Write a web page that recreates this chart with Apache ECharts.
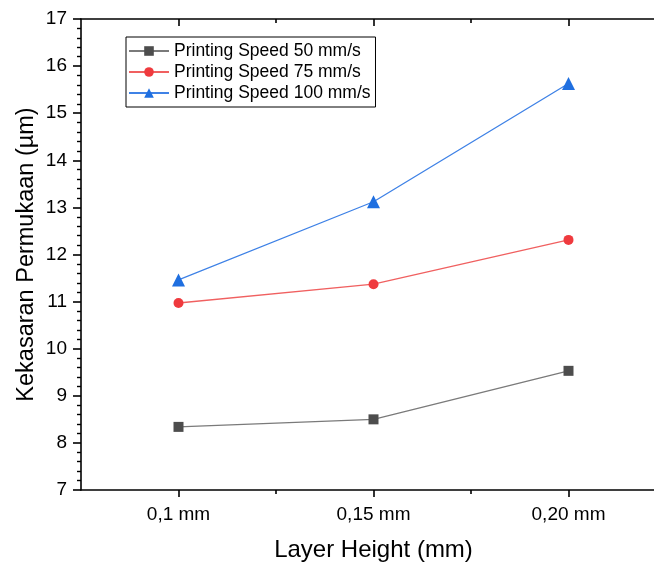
<!DOCTYPE html>
<html>
<head>
<meta charset="utf-8">
<script src="https://cdn.jsdelivr.net/npm/echarts@6/dist/echarts.min.js"></script>
<style>
  html, body { margin: 0; padding: 0; background: #fff; }
  #chart { width: 654px; height: 565px; }
</style>
</head>
<body>
<div id="chart"></div>
<script>
// layer height (mm) and their tick labels
const layerHeights = [0.1, 0.15, 0.2]
const layerLabels = ['0,1 mm', '0,15 mm', '0,20 mm']
const minorTicks = [0.125, 0.175]

const seriesNames = ['Printing Speed 50 mm/s', 'Printing Speed 75 mm/s', 'Printing Speed 100 mm/s']
const speed50 = [8.34, 8.50, 9.53]
const speed75 = [10.97, 11.37, 12.31]
const speed100 = [11.46, 13.12, 15.63]

const font = 'Liberation Sans, Arial, sans-serif'

const pairs = vals => vals.map((v, i) => [layerHeights[i], v])

const labelFor = v => {
  const i = layerHeights.findIndex(x => Math.abs(x - v) < 1e-6)
  return i >= 0 ? layerLabels[i] : ''
}

// the plot runs past the right edge of the picture
const baseX = {
  type: 'value',
  min: 0.075,
  max: 0.225,
  interval: 0.025,
  splitLine: { show: false },
  axisLine: { show: true, onZero: false, lineStyle: { color: '#000', width: 1.6 } }
}

const option = {
  backgroundColor: '#fff',
  animation: false,
  textStyle: { fontFamily: font },
  grid: { left: 81, top: 19, right: -12, bottom: 75, outerBoundsMode: 'none' },
  legend: {
    orient: 'vertical',
    left: 126,
    top: 37,
    padding: [4, 5, 4, 2],
    itemGap: 1,
    itemWidth: 40,
    itemHeight: 12,
    borderColor: '#000',
    borderWidth: 1,
    borderRadius: 0,
    textStyle: { fontSize: 17.5, lineHeight: 20, color: '#000', fontFamily: font },
    data: seriesNames
  },
  xAxis: [
    Object.assign({}, baseX, {
      position: 'bottom',
      name: 'Layer Height (mm)',
      nameLocation: 'middle',
      nameGap: 48,
      nameTextStyle: { fontSize: 24, color: '#000', fontFamily: font },
      axisTick: { show: true, customValues: layerHeights, length: 7, lineStyle: { color: '#000', width: 1.6 } },
      axisLabel: { customValues: layerHeights, formatter: labelFor, fontSize: 19, color: '#000', margin: 15, fontFamily: font }
    }),
    Object.assign({}, baseX, {
      position: 'bottom',
      axisLine: { show: false },
      axisTick: { show: true, customValues: minorTicks, length: 4, lineStyle: { color: '#000', width: 1.6 } },
      axisLabel: { show: false }
    }),
    Object.assign({}, baseX, {
      position: 'top',
      axisTick: { show: true, inside: true, customValues: layerHeights, length: 7, lineStyle: { color: '#000', width: 1.6 } },
      axisLabel: { show: false }
    }),
    Object.assign({}, baseX, {
      position: 'top',
      axisLine: { show: false },
      axisTick: { show: true, inside: true, customValues: minorTicks, length: 4, lineStyle: { color: '#000', width: 1.6 } },
      axisLabel: { show: false }
    })
  ],
  yAxis: {
    type: 'value',
    min: 7,
    max: 17,
    interval: 1,
    name: 'Kekasaran Permukaan (µm)',
    nameLocation: 'middle',
    nameGap: 42,
    nameMoveOverlap: false,
    nameTextStyle: { fontSize: 23.5, color: '#000', fontFamily: font },
    splitLine: { show: false },
    axisLine: { show: true, lineStyle: { color: '#000', width: 1.6 } },
    axisTick: { show: true, length: 8, lineStyle: { color: '#000', width: 1.6 } },
    minorTick: { show: true, splitNumber: 5, length: 4, lineStyle: { color: '#000', width: 1.4 } },
    axisLabel: { fontSize: 19, color: '#000', margin: 14, fontFamily: font }
  },
  series: [
    {
      name: seriesNames[0],
      type: 'line',
      data: pairs(speed50),
      symbol: 'rect',
      symbolSize: 10,
      itemStyle: { color: '#4d4d4d' },
      lineStyle: { color: '#7a7a7a', width: 1.3 }
    },
    {
      name: seriesNames[1],
      type: 'line',
      data: pairs(speed75),
      symbol: 'circle',
      symbolSize: 10,
      itemStyle: { color: '#ef3a3e' },
      lineStyle: { color: '#f06060', width: 1.3 }
    },
    {
      name: seriesNames[2],
      type: 'line',
      data: pairs(speed100),
      symbol: 'triangle',
      symbolSize: 13,
      itemStyle: { color: '#1f6fe0' },
      lineStyle: { color: '#3f82e6', width: 1.3 }
    }
  ]
}

const myChart = echarts.init(document.getElementById('chart'))
myChart.setOption(option)
</script>
</body>
</html>
